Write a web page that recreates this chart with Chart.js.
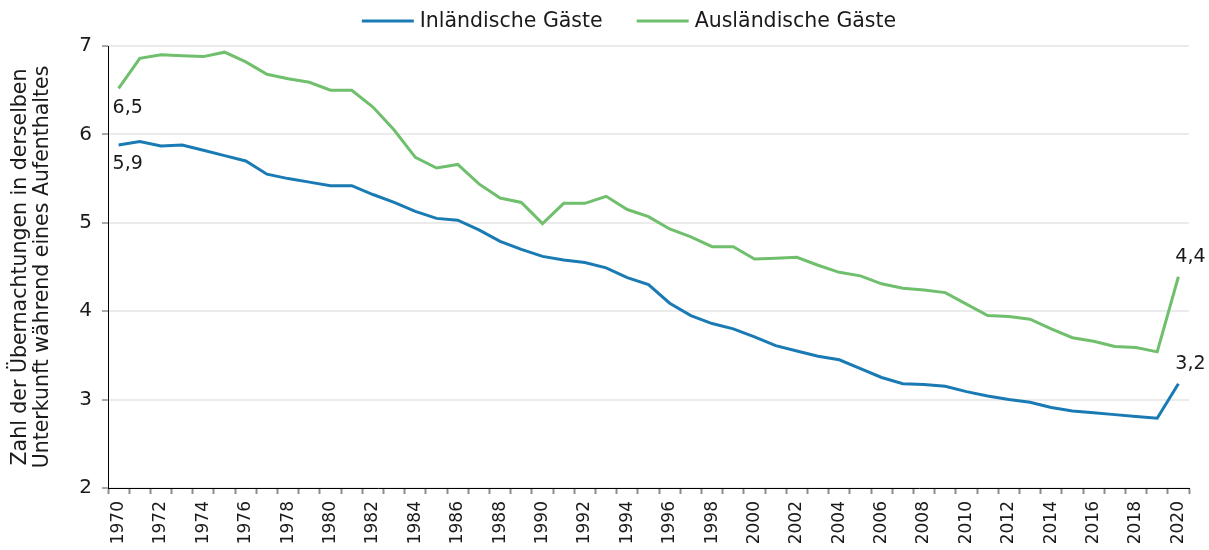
<!DOCTYPE html>
<html>
<head>
<meta charset="utf-8">
<script src="https://cdn.jsdelivr.net/npm/chart.js@4"></script>
<style>
  html, body { margin: 0; padding: 0; background: #fff; }
  #wrap { width: 1209px; height: 550px; position: relative; }
</style>
</head>
<body>
<div id="wrap"><canvas id="chart"></canvas></div>
<script>
// Jahre
const years = ['1970','1971','1972','1973','1974','1975','1976','1977','1978','1979',
  '1980','1981','1982','1983','1984','1985','1986','1987','1988','1989',
  '1990','1991','1992','1993','1994','1995','1996','1997','1998','1999',
  '2000','2001','2002','2003','2004','2005','2006','2007','2008','2009',
  '2010','2011','2012','2013','2014','2015','2016','2017','2018','2019','2020'];

// Inländische Gäste
const inland = [5.88, 5.92, 5.87, 5.88, 5.82, 5.76, 5.70, 5.55, 5.50, 5.46,
  5.42, 5.42, 5.32, 5.23, 5.13, 5.05, 5.03, 4.92, 4.79, 4.70,
  4.62, 4.58, 4.55, 4.49, 4.38, 4.30, 4.09, 3.95, 3.86, 3.80,
  3.71, 3.61, 3.55, 3.49, 3.45, 3.35, 3.25, 3.18, 3.17, 3.15,
  3.09, 3.04, 3.00, 2.97, 2.91, 2.87, 2.85, 2.83, 2.81, 2.79, 3.18];

// Ausländische Gäste
const ausland = [6.52, 6.86, 6.90, 6.89, 6.88, 6.93, 6.82, 6.68, 6.63, 6.59,
  6.50, 6.50, 6.31, 6.05, 5.74, 5.62, 5.66, 5.44, 5.28, 5.23,
  4.99, 5.22, 5.22, 5.30, 5.15, 5.07, 4.93, 4.84, 4.73, 4.73,
  4.59, 4.60, 4.61, 4.52, 4.44, 4.40, 4.31, 4.26, 4.24, 4.21,
  4.08, 3.95, 3.94, 3.91, 3.80, 3.70, 3.66, 3.60, 3.59, 3.54, 4.39];

const yTicks = [2, 3, 4, 5, 6, 7];
const yTitle = ['Zahl der Übernachtungen in derselben', 'Unterkunft während eines Aufenthaltes'];

const FONT = '"DejaVu Sans", sans-serif';
const BLUE = '#1a7bb4';
const GREEN = '#6fbf6c';
const TEXT = '#1a1a1a';

function fmt(v) {
  return v.toFixed(1).replace('.', ',');
}

// Legende oben (eigene Zeichnung, Farben/Texte aus den Datasets)
const topLegend = {
  id: 'topLegend',
  afterDraw(chart) {
    const ctx = chart.ctx;
    const lineW = 52, gap = 6, spacing = 34, y = 21;
    ctx.save();
    ctx.font = '20.5px ' + FONT;
    const items = chart.data.datasets.map(ds => ({
      text: ds.label, color: ds.borderColor, w: ctx.measureText(ds.label).width
    }));
    let total = -spacing;
    items.forEach(it => { total += lineW + gap + it.w + spacing; });
    let x = 629 - total / 2;
    ctx.textBaseline = 'middle';
    ctx.textAlign = 'left';
    items.forEach(it => {
      ctx.strokeStyle = it.color;
      ctx.lineWidth = 3;
      ctx.beginPath();
      ctx.moveTo(x, y);
      ctx.lineTo(x + lineW, y);
      ctx.stroke();
      ctx.fillStyle = TEXT;
      ctx.fillText(it.text, x + lineW + gap, y + 1);
      x += lineW + gap + it.w + spacing;
    });
    ctx.restore();
  }
};

// Beschriftung des ersten und letzten Wertes
const endLabels = {
  id: 'endLabels',
  afterDatasetsDraw(chart) {
    const ctx = chart.ctx;
    ctx.save();
    ctx.font = '19px ' + FONT;
    ctx.fillStyle = TEXT;
    chart.data.datasets.forEach((ds, i) => {
      const pts = chart.getDatasetMeta(i).data;
      const first = pts[0];
      const last = pts[pts.length - 1];
      ctx.textAlign = 'left';
      ctx.textBaseline = 'top';
      ctx.fillText(fmt(ds.data[0]), first.x - 6, first.y + 10);
      ctx.textAlign = 'center';
      ctx.textBaseline = 'bottom';
      ctx.fillText(fmt(ds.data[ds.data.length - 1]), last.x + 12, last.y - 10);
    });
    ctx.restore();
  }
};

new Chart(document.getElementById('chart'), {
  type: 'line',
  data: {
    labels: years,
    datasets: [
      {
        label: 'Inländische Gäste',
        data: inland,
        borderColor: BLUE,
        backgroundColor: BLUE,
        borderWidth: 3,
        pointRadius: 0,
        tension: 0
      },
      {
        label: 'Ausländische Gäste',
        data: ausland,
        borderColor: GREEN,
        backgroundColor: GREEN,
        borderWidth: 3,
        pointRadius: 0,
        tension: 0
      }
    ]
  },
  options: {
    responsive: true,
    maintainAspectRatio: false,
    animation: false,
    layout: { padding: { left: 0, right: 20, top: 46, bottom: 0 } },
    plugins: {
      tooltip: { enabled: false },
      legend: { display: false }
    },
    scales: {
      x: {
        offset: true,
        afterFit(scale) { scale.height = 62; },
        border: { color: '#000', width: 1 },
        grid: {
          offset: true,
          drawOnChartArea: false,
          drawTicks: true,
          tickLength: 6,
          tickColor: '#8c8c8c',
          tickWidth: 2
        },
        ticks: {
          autoSkip: false,
          minRotation: 90,
          maxRotation: 90,
          padding: 7,
          color: TEXT,
          font: { family: FONT, size: 17 },
          callback(value, index) {
            return index % 2 === 0 ? years[index] : '';
          }
        }
      },
      y: {
        min: yTicks[0],
        max: yTicks[yTicks.length - 1],
        afterFit(scale) { scale.width = 108; },
        afterBuildTicks(scale) {
          scale.ticks = yTicks.map(v => ({ value: v }));
        },
        border: { color: '#000', width: 1 },
        grid: {
          color: '#ebebeb',
          lineWidth: 2,
          tickLength: 6,
          tickColor: '#555',
          tickWidth: 1
        },
        ticks: {
          padding: 10,
          color: TEXT,
          font: { family: FONT, size: 20 }
        },
        title: {
          display: true,
          text: yTitle,
          color: TEXT,
          padding: { top: 9, bottom: 0 },
          font: { family: FONT, size: 20.5, lineHeight: 1.1 }
        }
      }
    }
  },
  plugins: [topLegend, endLabels]
});
</script>
</body>
</html>
